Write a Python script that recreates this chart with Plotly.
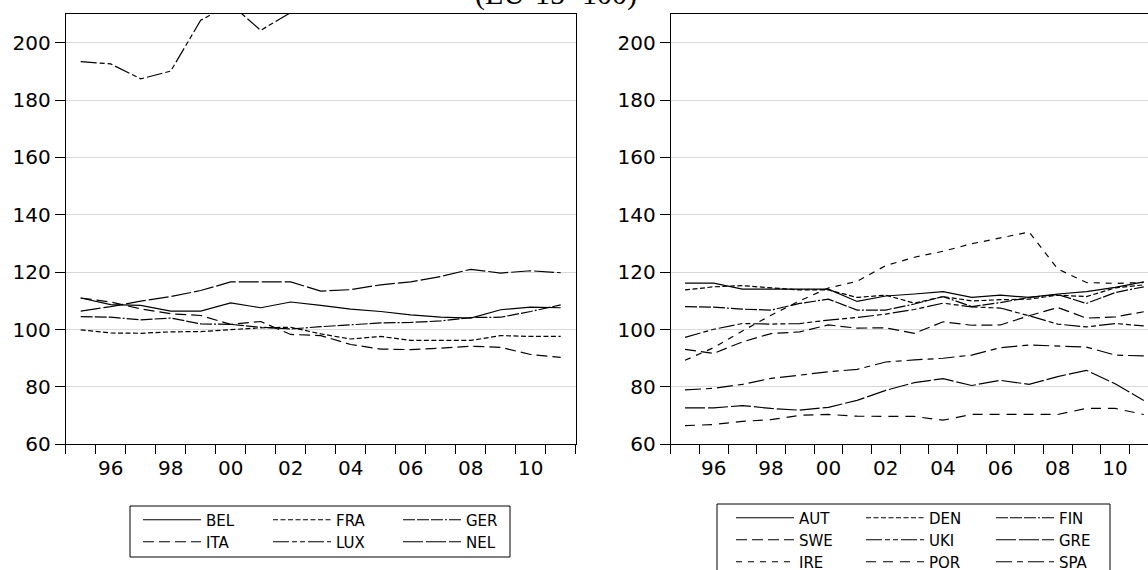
import plotly.graph_objects as go

# ---------------- data ----------------
years = list(range(1995, 2012))
label_years = [1996, 1998, 2000, 2002, 2004, 2006, 2008, 2010]
year_labels = ["96", "98", "00", "02", "04", "06", "08", "10"]
y_ticks = [60, 80, 100, 120, 140, 160, 180, 200]

# left panel
BEL = [111.0, 108.7, 108.4, 106.4, 106.4, 109.3, 107.6, 109.6, 108.4, 107.1, 106.3, 105.1, 104.3, 104.0, 106.9, 107.8, 107.6]
FRA = [99.9, 98.8, 98.7, 99.2, 99.3, 99.9, 100.6, 100.8, 98.5, 96.7, 97.6, 96.2, 96.2, 96.2, 97.9, 97.6, 97.6]
GER = [104.5, 104.3, 103.4, 104.0, 102.0, 101.8, 100.8, 100.2, 101.0, 101.6, 102.3, 102.5, 103.0, 104.2, 104.3, 106.3, 108.6]
ITA = [111.0, 109.6, 107.2, 105.5, 104.9, 101.8, 102.8, 98.3, 97.9, 94.8, 93.2, 93.0, 93.5, 94.2, 93.8, 91.3, 90.3]
LUX = [193.4, 192.6, 187.4, 190.1, 207.8, 213.5, 204.3, 210.5, 215.0, 220.0, 224.0, 228.0, 232.0, 234.0, 230.0, 236.0, 240.0]
NEL = [106.4, 108.0, 109.9, 111.5, 113.6, 116.6, 116.6, 116.6, 113.4, 113.9, 115.6, 116.6, 118.5, 121.0, 119.7, 120.5, 119.8]

# right panel
AUT = [116.2, 116.2, 114.1, 114.1, 114.1, 114.1, 109.8, 111.7, 112.4, 113.2, 111.2, 112.0, 111.2, 112.4, 113.2, 114.7, 116.6]
DEN = [113.8, 114.9, 115.3, 114.5, 113.8, 113.8, 111.2, 112.0, 109.2, 111.5, 110.0, 110.4, 110.6, 112.0, 111.5, 114.5, 115.6]
FIN = [108.0, 107.8, 107.1, 106.8, 109.1, 110.6, 106.8, 106.8, 108.9, 111.5, 108.0, 109.4, 111.2, 112.2, 109.1, 112.9, 114.9]
SWE = [93.1, 91.7, 95.7, 98.6, 99.2, 101.6, 100.5, 100.6, 98.7, 102.7, 101.5, 101.6, 104.8, 107.7, 104.0, 104.4, 106.2]
UKI = [97.3, 100.1, 102.1, 101.9, 102.1, 103.3, 104.2, 105.4, 107.0, 109.2, 107.9, 107.5, 104.8, 101.9, 100.9, 102.1, 101.3]
GRE = [72.7, 72.7, 73.5, 72.5, 71.9, 72.9, 75.3, 78.8, 81.5, 82.9, 80.5, 82.3, 80.9, 83.6, 85.8, 81.1, 75.3]
IRE = [89.3, 93.7, 99.5, 105.0, 110.0, 114.5, 116.8, 122.3, 125.2, 127.3, 129.9, 132.0, 134.0, 121.1, 116.4, 116.1, 116.4]
POR = [66.5, 66.9, 68.0, 68.6, 70.1, 70.4, 69.8, 69.8, 69.7, 68.4, 70.4, 70.4, 70.4, 70.4, 72.5, 72.5, 70.4]
SPA = [79.0, 79.5, 80.9, 83.0, 84.1, 85.3, 86.1, 88.7, 89.4, 90.0, 91.1, 93.7, 94.6, 94.3, 93.9, 91.1, 90.8]

# ---------------- styles ----------------
W, H = 1148, 570
FONT = "DejaVu Sans, Arial, sans-serif"
D_SOLID = "solid"
D_SHORT = "5px,2.5px"
D_LDOT = "12px,2px,12px,2px,12px,2px,2px,2px"
D_MED = "11px,5px"
D_LSHORT = "16px,3px,5px,3px,5px,3px"
D_LONG = "20px,3px"
D_SPACED = "6px,6px"
D_POR = "10px,7px"
D_SPA = "16px,5px,6px,5px"


def px(xp):
    return xp / W


def py(yp):
    return (H - yp) / H


left_series = [
    ("BEL", BEL, D_SOLID, "legend"), ("FRA", FRA, D_SHORT, "legend"), ("GER", GER, D_LDOT, "legend"),
    ("ITA", ITA, D_MED, "legend2"), ("LUX", LUX, D_LSHORT, "legend2"), ("NEL", NEL, D_LONG, "legend2"),
]
right_series = [
    ("AUT", AUT, D_SOLID, "legend3"), ("DEN", DEN, D_SHORT, "legend3"), ("FIN", FIN, D_LDOT, "legend3"),
    ("SWE", SWE, D_MED, "legend4"), ("UKI", UKI, D_LSHORT, "legend4"), ("GRE", GRE, D_LONG, "legend4"),
    ("IRE", IRE, D_SPACED, "legend5"), ("POR", POR, D_POR, "legend5"), ("SPA", SPA, D_SPA, "legend5"),
]

fig = go.Figure()
for name, vals, dash, leg in left_series:
    fig.add_trace(go.Scatter(x=years, y=vals, name=name, mode="lines", xaxis="x", yaxis="y",
                             line=dict(color="black", width=1.2, dash=dash), legend=leg))
for name, vals, dash, leg in right_series:
    fig.add_trace(go.Scatter(x=years, y=vals, name=name, mode="lines", xaxis="x2", yaxis="y2",
                             line=dict(color="black", width=1.2, dash=dash), legend=leg))

boundaries = [y - 0.5 for y in years] + [years[-1] + 0.5]

xcommon = dict(tickmode="array", tickvals=label_years, ticktext=year_labels,
               ticks="outside", ticklen=6, tickcolor="rgba(0,0,0,0)",
               minor=dict(tickmode="array", tickvals=boundaries, ticks="outside", ticklen=9,
                          tickwidth=1, tickcolor="black", showgrid=False),
               showline=True, linecolor="black", linewidth=1, mirror=True,
               showgrid=False, zeroline=False, tickfont=dict(family=FONT, size=20, color="black"))
ycommon = dict(range=[60, 210], tickmode="array", tickvals=y_ticks, ticks="outside", ticklen=10,
               tickcolor="black", showline=True, linecolor="black", linewidth=1,
               showgrid=True, gridcolor="#d9d9d9", gridwidth=1, zeroline=False,
               tickfont=dict(family=FONT, size=20, color="black"))

ydom = [py(444.3), py(14)]
right_x0 = 670.7
year_px_right = 28.67
fig.update_layout(
    width=W, height=H, margin=dict(l=0, r=0, t=0, b=0, autoexpand=False),
    paper_bgcolor="white", plot_bgcolor="white", showlegend=True, hovermode=False,
    xaxis=dict(domain=[px(65.7), px(575.7)], range=[1994.5, 2011.5], anchor="y", **xcommon),
    yaxis=dict(domain=ydom, anchor="x", mirror=True, **ycommon),
    xaxis2=dict(domain=[px(right_x0), 1.0],
                range=[1994.5, 1994.5 + (W - right_x0) / year_px_right], anchor="y2", **xcommon),
    yaxis2=dict(domain=ydom, anchor="x2", mirror=False, **ycommon),
)

leg_common = dict(orientation="h", xanchor="left", yanchor="middle", bgcolor="rgba(0,0,0,0)",
                  borderwidth=0, font=dict(family=FONT, size=15, color="black"),
                  entrywidth=57, entrywidthmode="pixels", itemwidth=58, itemclick=False,
                  itemdoubleclick=False, traceorder="normal")
fig.update_layout(
    legend=dict(x=px(138), y=py(520), **leg_common),
    legend2=dict(x=px(138), y=py(542), **leg_common),
    legend3=dict(x=px(731), y=py(518), **leg_common),
    legend4=dict(x=px(731), y=py(540), **leg_common),
    legend5=dict(x=px(731), y=py(562), **leg_common),
)

fig.add_shape(type="rect", xref="paper", yref="paper", x0=px(130), x1=px(510), y0=py(557), y1=py(506),
              line=dict(color="black", width=1), fillcolor="rgba(0,0,0,0)", layer="above")
fig.add_shape(type="rect", xref="paper", yref="paper", x0=px(717), x1=px(1110), y0=py(590), y1=py(504),
              line=dict(color="black", width=1), fillcolor="rgba(0,0,0,0)", layer="above")

fig.add_annotation(text="(EU-15=100)", xref="paper", yref="paper", x=px(556), y=py(13.5),
                   xanchor="center", yanchor="bottom", showarrow=False,
                   font=dict(family="Liberation Serif, Times New Roman, serif", size=30, color="black"))

fig.write_html("out.html", config={"displayModeBar": False},
               post_script="document.body.style.margin='0px';")
